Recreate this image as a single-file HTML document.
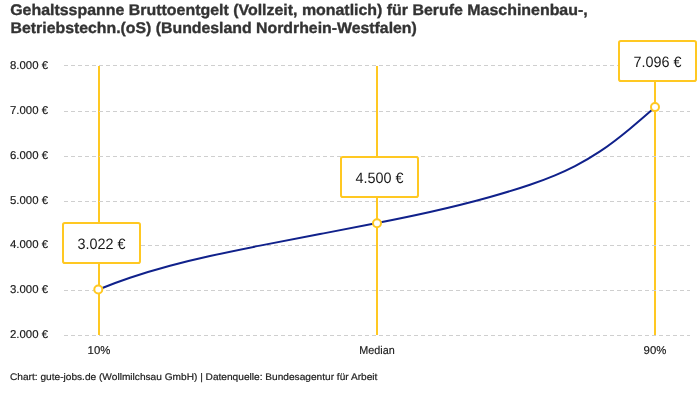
<!DOCTYPE html>
<html>
<head>
<meta charset="utf-8">
<style>
html,body{margin:0;padding:0;background:#fff;}
body{width:700px;height:400px;overflow:hidden;position:relative;font-family:"Liberation Sans",sans-serif;}
svg{position:absolute;left:0;top:0;will-change:transform;transform:translateZ(0);}
text{font-family:"Liberation Sans",sans-serif;text-rendering:geometricPrecision;}
.title{font-weight:bold;font-size:15.4px;fill:#333;stroke:#333;stroke-width:0.35px;}
.ax{font-size:11.4px;fill:#181818;stroke:#181818;stroke-width:0.15px;}
.lab{font-size:15px;fill:#181818;}
.foot{font-size:9.6px;fill:#222;stroke:#222;stroke-width:0.2px;}
</style>
</head>
<body>
<svg width="700" height="400" viewBox="0 0 700 400">
<rect width="700" height="400" fill="#fff"/>
<text class="title" x="10.2" y="14.8" textLength="577.5" lengthAdjust="spacingAndGlyphs">Gehaltsspanne Bruttoentgelt (Vollzeit, monatlich) für Berufe Maschinenbau-,</text>
<text class="title" x="10.6" y="33.4" textLength="406.2" lengthAdjust="spacingAndGlyphs">Betriebstechn.(oS) (Bundesland Nordrhein-Westfalen)</text>
<g class="ax">
<text x="10" y="68.7">8.000 €</text>
<text x="10" y="113.8">7.000 €</text>
<text x="10" y="158.7">6.000 €</text>
<text x="10" y="203.7">5.000 €</text>
<text x="10" y="248.0">4.000 €</text>
<text x="10" y="292.9">3.000 €</text>
<text x="10" y="337.9">2.000 €</text>
</g>
<g stroke="#ffc822" stroke-width="2" shape-rendering="crispEdges">
<line x1="99" x2="99" y1="66" y2="335"/>
<line x1="377" x2="377" y1="66" y2="335"/>
<line x1="655" x2="655" y1="66" y2="335"/>
</g>
<g stroke="#cfcfcf" stroke-width="1" stroke-dasharray="4 3" fill="none" shape-rendering="crispEdges">
<line x1="64" x2="690" y1="65.5" y2="65.5"/>
<line x1="64" x2="690" y1="111.5" y2="111.5"/>
<line x1="64" x2="690" y1="156.5" y2="156.5"/>
<line x1="64" x2="690" y1="201.5" y2="201.5"/>
<line x1="64" x2="690" y1="245.5" y2="245.5"/>
<line x1="64" x2="690" y1="290.5" y2="290.5"/>
<line x1="64" x2="690" y1="335.5" y2="335.5"/>
</g>
<path d="M98.50,289.49C109.00,285.19,119.50,281.32,130.00,277.78C143.33,273.28,156.67,269.34,170.00,265.77C183.33,262.21,196.67,259.02,210.00,256.05C226.67,252.35,243.33,248.95,260.00,245.64C280.00,241.67,300.00,237.86,320.00,234.06C339.00,230.44,358.00,226.83,377.00,223.07C394.67,219.58,412.33,215.97,430.00,212.02C450.00,207.55,470.00,202.65,490.00,197.03C503.33,193.28,516.67,189.25,530.00,184.71C538.33,181.87,546.67,178.79,555.00,175.30C561.67,172.51,568.33,169.45,575.00,166.04C583.33,161.77,591.67,156.94,600.00,151.39C610.00,144.72,620.00,136.94,630.00,128.65C638.43,121.66,646.87,114.31,655.30,106.96" fill="none" stroke="#10218b" stroke-width="2"/>
<g fill="#fff" stroke="#ffc822" stroke-width="2">
<circle cx="98.3" cy="289.5" r="4"/>
<circle cx="377" cy="223.2" r="4"/>
<circle cx="655" cy="107.1" r="4"/>
</g>
<g fill="#fff" stroke="#ffc822" stroke-width="2">
<rect x="63" y="223" width="77" height="40" rx="1.8"/>
<rect x="341" y="157" width="77" height="40" rx="1.8"/>
<rect x="619" y="41" width="77" height="40" rx="1.8"/>
</g>
<g class="lab" text-anchor="middle">
<text x="101.5" y="248.9" textLength="48" lengthAdjust="spacingAndGlyphs">3.022 €</text>
<text x="379.5" y="182.9" textLength="48" lengthAdjust="spacingAndGlyphs">4.500 €</text>
<text x="657.5" y="66.9" textLength="48" lengthAdjust="spacingAndGlyphs">7.096 €</text>
</g>
<g class="ax" text-anchor="middle">
<text x="99" y="353.5">10%</text>
<text x="377" y="353.5" textLength="35.4" lengthAdjust="spacingAndGlyphs">Median</text>
<text x="655" y="353.5">90%</text>
</g>
<text class="foot" x="10" y="380" textLength="367.4" lengthAdjust="spacingAndGlyphs">Chart: gute-jobs.de (Wollmilchsau GmbH) | Datenquelle: Bundesagentur für Arbeit</text>
</svg>
</body>
</html>
